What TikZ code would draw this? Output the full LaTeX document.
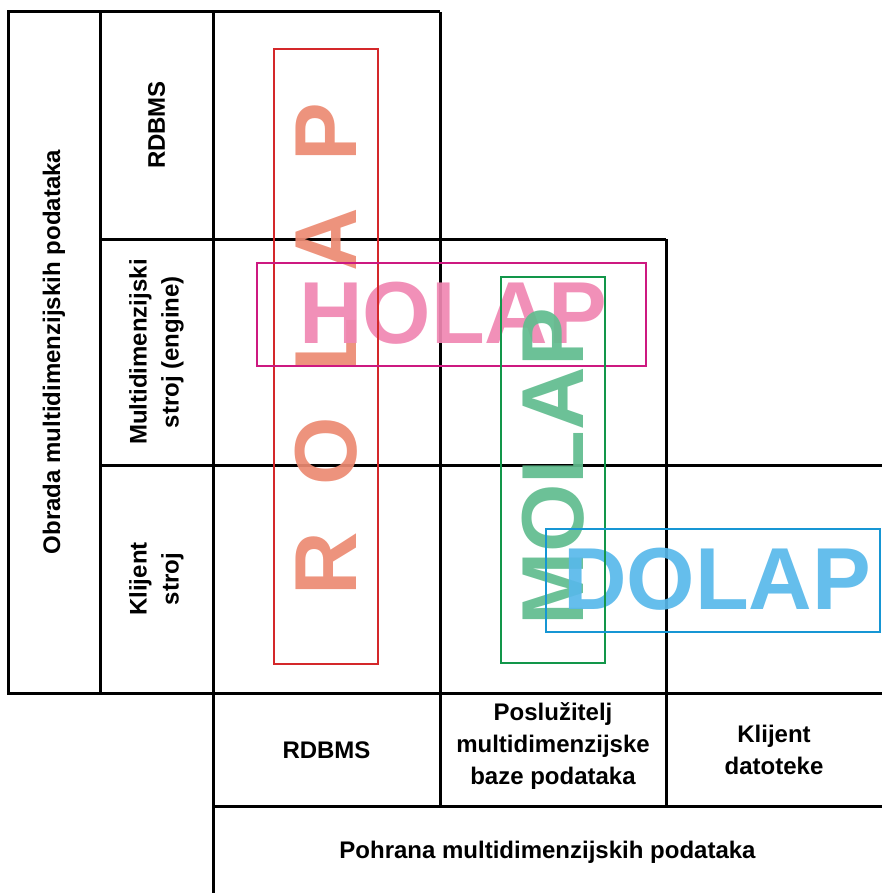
\documentclass[tikz,border=0pt]{standalone}
\usepackage{fontspec}
\setmainfont{Liberation Sans}
\usepackage{xcolor}
\definecolor{rolapred}{RGB}{212,40,42}
\definecolor{rolaptxt}{RGB}{236,138,114}
\definecolor{holapmag}{RGB}{205,25,128}
\definecolor{holaptxt}{RGB}{240,135,178}
\definecolor{molapgrn}{RGB}{18,150,74}
\definecolor{molaptxt}{RGB}{96,188,142}
\definecolor{dolapblu}{RGB}{22,150,212}
\definecolor{dolaptxt}{RGB}{88,184,234}
\newcommand{\lgap}{\hspace{46pt}}

\begin{document}
\begin{tikzpicture}[
    x=1pt, y=-1pt,
    font=\fontsize{24}{32}\selectfont\bfseries,
    grid/.style={line width=3pt, draw=black},
    lbl/.style={align=center, inner sep=0pt},
    vlbl/.style={lbl, rotate=90},
    big/.style={font=\fontsize{88}{88}\selectfont\bfseries, inner sep=0pt, text opacity=0.92},
    olap/.style={line width=2.8pt, inner sep=0pt, outer sep=0pt},
  ]
  \useasboundingbox (0,0) rectangle (882,893);

  % ===== table grid =====
  \draw[grid] (8,12) rectangle (100,693);
  \draw[grid] (100,12) -- (440,12);
  \draw[grid] (100,239) -- (666,239);
  \draw[grid] (100,465) -- (882,465);
  \draw[grid] (100,693) -- (882,693);
  \draw[grid] (213,806) -- (882,806);
  \draw[grid] (213,12) -- (213,893);
  \draw[grid] (440,12) -- (440,806);
  \draw[grid] (666,239) -- (666,806);

  % ===== processing side (left) =====
  \node[vlbl] (obrada) at (54,352) {Obrada multidimenzijskih podataka};
  \node[vlbl] (rdbmsA) at (156.5,125) {RDBMS};
  \node[vlbl] (engine) at (156.5,352) {Multidimenzijski\\stroj (engine)};
  \node[vlbl] (klistroj) at (156.5,579) {Klijent\\stroj};

  % ===== storage side (bottom) =====
  \node[lbl] (rdbmsB) at (326.5,750) {RDBMS};
  \node[lbl] (server) at (553,746) {Poslužitelj\\multidimenzijske\\baze podataka};
  \node[lbl] (klidat) at (774,750) {Klijent\\datoteke};
  \node[lbl] (pohrana) at (547.5,852) {Pohrana multidimenzijskih podataka};

  % ===== OLAP variants =====
  \node[big, rotate=90, text=rolaptxt] (rolap) at (326,349) {R\lgap O\lgap L\lgap A\lgap P};
  \node[big, text=holaptxt] (holap) at (453,313) {HOLAP};
  \node[big, rotate=90, text=molaptxt] (molap) at (553.5,467) {MOLAP};
  \node[big, text=dolaptxt] (dolap) at (717,579.5) {DOLAP};

  \node[olap, draw=rolapred, minimum width=104, minimum height=615] (rolapbox) at (326,356.5) {};
  \node[olap, draw=holapmag, minimum width=389, minimum height=103] (holapbox) at (451.5,314.5) {};
  \node[olap, draw=molapgrn, minimum width=104, minimum height=386] (molapbox) at (553,470) {};
  \node[olap, draw=dolapblu, minimum width=334, minimum height=103] (dolapbox) at (713,580.5) {};

\end{tikzpicture}
\end{document}
